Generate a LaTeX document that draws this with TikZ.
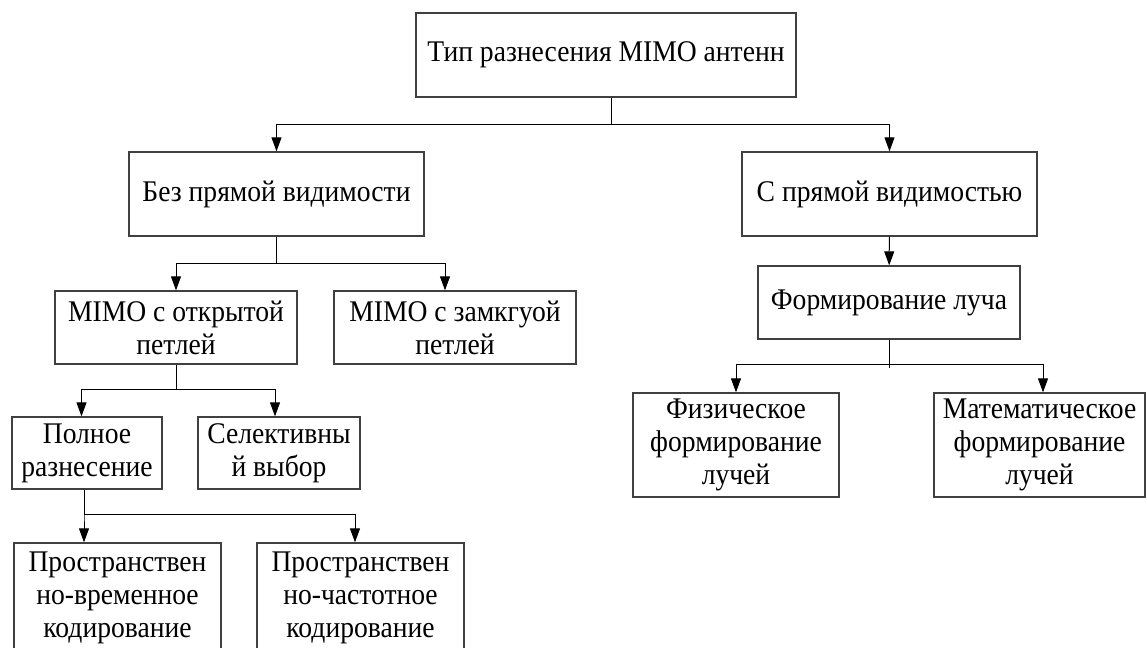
\documentclass[tikz,border=0pt]{standalone}
\usepackage{fontspec}
\setmainfont{Liberation Serif}[FakeStretch=0.92]
\usepackage{tikz}
\usetikzlibrary{arrows.meta,calc}
\tikzset{
  box/.style={rectangle, draw=black!75, fill=white, line width=0.65pt,
              align=center, inner sep=0pt, font=\fontsize{15}{16.5}\selectfont},
  flow/.style={-{Triangle[length=7pt,width=5pt]}, draw=black, line width=0.5pt},
  link/.style={draw=black, line width=0.5pt}
}
\begin{document}
\begin{tikzpicture}[x=0.5pt, y=-0.5pt]
  \useasboundingbox (0,0) rectangle (1147,648);
  \clip (0,0) rectangle (1147,648);
  % top
  \node[box, minimum width=190pt, minimum height=42pt] (type) at (606,55) {Тип разнесения MIMO антенн};
  \node[box, minimum width=147.5pt, minimum height=42pt] (nlos) at (276.5,194) {Без прямой видимости};
  \node[box, minimum width=147.5pt, minimum height=42pt] (los) at (889.5,194) {С прямой видимостью};
  \draw[flow] ($(type.south)+(5,0)$) -- ++(0,27) -| (nlos.north);
  \draw[flow] ($(type.south)+(5,0)$) -- ++(0,27) -| (los.north);
  % right branch
  \node[box, minimum width=131pt, minimum height=36.5pt] (beam) at (889,302.5) {Формирование луча};
  \draw[flow] (los) -- (beam);
  \node[box, minimum width=103pt, minimum height=52pt] (phys) at (736,445) {Физическое\\формирование\\лучей};
  \node[box, minimum width=105.5pt, minimum height=52pt] (math) at (1039.5,445) {Математическое\\формирование\\лучей};
  \draw[link] (beam.south) -- ++(0,28);
  \coordinate (bj) at ($(beam.south)+(0,25)$);
  \draw[flow] (bj) -| (phys.north);
  \draw[flow] (bj) -| ($(math.north)+(3.5,0)$);
  % left branch
  \node[box, minimum width=121pt, minimum height=36.5pt] (open) at (176,327.5) {MIMO с открытой\\петлей};
  \node[box, minimum width=121pt, minimum height=36.5pt] (closed) at (455,327.5) {MIMO с замкгуой\\петлей};
  \draw[flow] (nlos.south) -- ++(0,27) -| (open.north);
  \draw[flow] (nlos.south) -- ++(0,27) -| ($(closed.north)+(-10,0)$);
  \node[box, minimum width=75pt, minimum height=36pt] (full) at (87,453) {Полное\\разнесение};
  \node[box, minimum width=81pt, minimum height=36pt] (sel) at (279,453) {Селективны\\й выбор};
  \draw[flow] (open.south) -- ++(0,25) -| ($(full.north)+(-5.5,0)$);
  \draw[flow] (open.south) -- ++(0,25) -| ($(sel.north)+(-4,0)$);
  \node[box, minimum width=103.5pt, minimum height=55pt] (stc) at (117.5,598) {Пространствен\\но-временное\\кодирование};
  \node[box, minimum width=103.5pt, minimum height=55pt] (sfc) at (360.5,598) {Пространствен\\но-частотное\\кодирование};
  \draw[flow] ($(full.south)+(-3,0)$) -- ++(0,25) -| ($(stc.north)+(-33.5,0)$);
  \draw[flow] ($(full.south)+(-3,0)$) -- ++(0,25) -| ($(sfc.north)+(-5.5,0)$);
\end{tikzpicture}
\end{document}
